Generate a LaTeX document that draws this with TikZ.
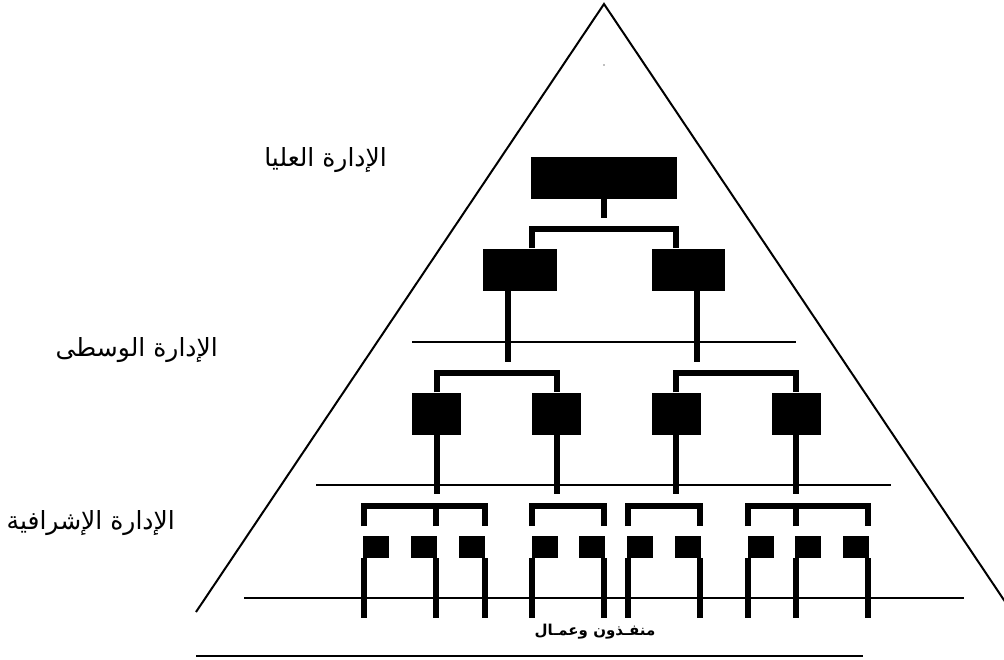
\documentclass[tikz,border=0pt]{standalone}
\usepackage{fontspec}
\newfontfamily\arabicfont[Script=Arabic]{DejaVu Sans}
\TeXXeTstate=1
\tikzset{
  bigbox/.style={fill=black,inner sep=0pt,minimum width=#1,minimum height=42},
  smallbox/.style={fill=black,inner sep=0pt,minimum width=26,minimum height=22},
  bar/.style={line width=6pt,line join=miter},
  level/.style={font=\arabicfont\fontsize{25}{28}\selectfont,anchor=east,inner sep=0pt},
}
\begin{document}
\begin{tikzpicture}[x=1pt,y=-1pt]
  \useasboundingbox (0,0) rectangle (1004,659);
  \clip (0,0) rectangle (1004,659);

  % Pyramid
  \draw[line width=2pt] (196,612) -- (604,4) -- (1012,612);
  \fill[gray] (604,65) circle (0.8);

  % Level lines
  \draw[line width=1.5pt] (412,342) -- (796,342);
  \draw[line width=2pt] (316,485) -- (891,485);
  \draw[line width=2.5pt] (244,598) -- (964,598);
  \draw[line width=2.5pt] (196,656) -- (863,656);

  % Top management
  \node[bigbox=146] (top) at (604,178) {};
  \node[bigbox=74] (l2a) at (520,269.5) {};
  \node[bigbox=73] (l2b) at (688.5,269.5) {};
  \coordinate (stem) at (604,218);
  \coordinate (tla) at (532,229);
  \coordinate (tlb) at (676,229);
  \draw[bar] (top.south) -- (stem);
  \draw[bar] (l2a.north -| tla) -- (tla) -- (tlb) -- (l2b.north -| tlb);

  % Middle management
  \coordinate (da) at (508,362);
  \coordinate (db) at (697,362);
  \draw[bar] (l2a.south -| da) -- (da);
  \draw[bar] (l2b.south -| db) -- (db);
  \foreach \n/\x in {m1/436.5,m2/556.5,m3/676,m4/796} {
    \node[bigbox=49] (\n) at (\x,413.5) {};
    \coordinate (\n-up) at (\x,373);
    \coordinate (\n-down) at (\x,494);
    \draw[bar] (\n.south) -- (\n-down);
  }
  \draw[bar] (m1.north) -- (m1-up) -- (m2-up) -- (m2.north);
  \draw[bar] (m3.north) -- (m3-up) -- (m4-up) -- (m4.north);

  % Supervisors
  \foreach \n/\x/\l in {s1/376/364,s2/424/436,s3/472/484.5,s4/544.5/532,s5/592/604,
                        s6/640/628,s7/688/700,s8/760.5/748,s9/808/796,s10/856/868} {
    \node[smallbox] (\n) at (\x,547) {};
    \coordinate (\n-top) at (\l,526);
    \coordinate (\n-foot) at (\l,618);
    \draw[bar] (\n.south -| \n-foot) -- (\n-foot);
  }
  \coordinate (gy) at (0,506);
  \draw[bar] (s1-top) -- (s1-top |- gy) -| (s3-top);
  \draw[bar] (s2-top) -- (s2-top |- gy);
  \draw[bar] (s4-top) -- (s4-top |- gy) -| (s5-top);
  \draw[bar] (s6-top) -- (s6-top |- gy) -| (s7-top);
  \draw[bar] (s8-top) -- (s8-top |- gy) -| (s10-top);
  \draw[bar] (s9-top) -- (s9-top |- gy);

  % Labels
  \node[level] (ltop) at (387,160) {\beginR الإدارة العليا\endR};
  \node[level] (lmid) at (218,350) {\beginR الإدارة الوسطى\endR};
  \node[level] (lsup) at (175,523) {\beginR الإدارة الإشرافية\endR};
  \node[font=\arabicfont\bfseries\fontsize{15}{17}\selectfont] (work) at (595,632) {\beginR منفـذون وعمـال\endR};
\end{tikzpicture}
\end{document}
